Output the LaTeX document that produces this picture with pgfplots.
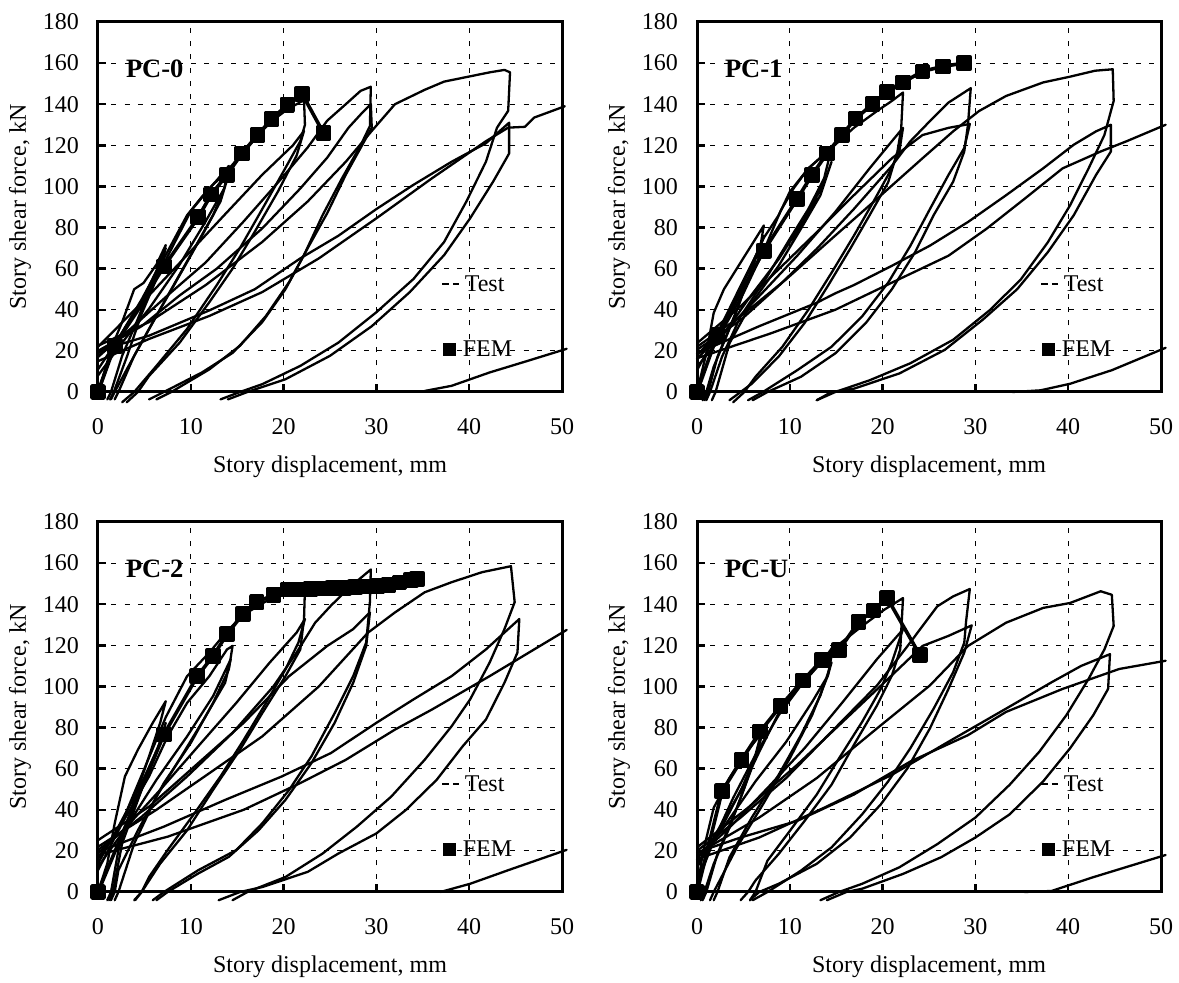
\documentclass[border=0pt]{standalone}
\usepackage{fontspec}
\setmainfont{Liberation Serif}
\usepackage{pgfplots}
\pgfplotsset{compat=1.18}
\tikzset{
  test/.style={black, line width=2.3pt, line join=round, line cap=round, mark=none},
  fem/.style={black, line width=3.6pt, line join=round, mark=square*, mark size=6pt, mark options={solid, fill=black}},
}
\pgfplotsset{panel/.style={
  width=464pt, height=370pt, scale only axis,
  xmin=0, xmax=50, ymin=0, ymax=180,
  xtick={0,10,20,30,40,50}, ytick={0,20,...,180},
  grid=major,
  major grid style={black, line width=0.9pt, dash pattern=on 5pt off 8.3pt},
  axis line style={black, line width=3pt},
  tick align=inside, xtick pos=left, ytick pos=left,
  major tick length=8pt,
  tick style={black, line width=2.4pt},
  clip=false,
  tick label style={font=\fontsize{24}{28}\selectfont},
  /pgf/number format/assume math mode=true,
  xticklabel style={anchor=center, yshift=-35pt},
  yticklabel style={anchor=east, xshift=-11pt},
  xlabel={Story displacement, mm}, ylabel={Story shear force, kN},
  label style={font=\fontsize{24}{28}\selectfont},
  xlabel style={at={(axis description cs:0.5,-0.203)}, anchor=center},
  ylabel style={at={(axis description cs:-0.168,0.5)}, anchor=center},
}}
\newcommand{\legendbits}[1]{%
  \addplot[black, line width=1.6pt, dash pattern=on 6.5pt off 4pt] coordinates {(37.1,52.5)(38.95,52.5)};
  \addplot[only marks, mark=square*, mark size=6pt, black] coordinates {(37.8,21)};
  \node[anchor=west, inner sep=0pt] at (axis cs:39.5,52.5) {Test};
  \node[anchor=west, inner sep=0pt] at (axis cs:39.3,21) {FEM};
  \node[anchor=west, inner sep=0pt, font=\bfseries\fontsize{26.5}{30}\selectfont] at (axis cs:3,157) {#1};
}
\begin{document}
\fontsize{24}{28}\selectfont
\begin{tikzpicture}
% ---------------- PC-0 ----------------
\begin{axis}[panel, at={(98pt,591pt)}, anchor=south west]
\addplot[test] coordinates {(0,0)(0.7,10)(1.4,21)(2.6,34)(3.9,50)(4.9,53)(6.3,62)(7.3,71.5)(6.7,62)(5.5,49)(4.3,35.6)(2.6,17.6)(1.4,0)(1.0,-3.6)};
\addplot[test] coordinates {(0,11)(2.2,26)(4.7,44)(7.1,66.6)(7.3,70)(6.3,55)(4.7,38)(3.1,17)(1.7,0)(1.3,-3.6)};
\addplot[test] coordinates {(0,19)(2.2,26)(4.7,45)(7.1,65)(9.6,86)(11.2,95)(12.8,103)(14.1,110)(13.6,99)(12.4,86)(10.4,70)(7.9,50)(5.5,30.7)(3.1,11)(1.8,0)(1.4,-3.6)};
\addplot[test] coordinates {(0,8)(2.6,24)(5.5,40.5)(8.8,62)(11.6,83)(13.6,99)(14.1,106)(13.2,92.7)(11.2,76)(9.2,60)(6.3,37)(3.9,17.6)(2.2,0)(1.8,-3.6)};
\addplot[test] coordinates {(0,17)(2.5,27)(5,44)(7.5,66)(10,88)(12,99)(14,108)(15.7,117)(17.2,125)(18.8,132)(20.4,137.5)(22.2,142)(22.3,130)(21.8,122)(20.2,109)(17.7,89)(15.3,70)(12.8,52)(9.6,30.7)(6.3,12.7)(3.9,0)(2.6,-5)};
\addplot[test] coordinates {(0,22)(2.2,32)(5.5,47)(9.6,66.6)(13.6,86)(17.7,105.7)(21,120)(22.2,127)(21.4,115)(19.4,97.6)(16.9,78)(14.5,60)(12,43.7)(8.8,24)(5.5,7.8)(4.3,0)(3.1,-5)};
\addplot[test] coordinates {(0,17.6)(3.5,30.7)(7.5,47)(11.6,63)(15.7,83)(19.8,104)(22.6,119)(24.7,132)(26.7,140)(28.3,146.5)(29.4,148.5)(29.3,129.4)(28.3,120)(26.3,104)(24.2,86)(22.2,66.6)(20.2,50)(17.7,34)(14.5,19)(11.2,9.5)(7.1,0)(5.5,-3.6)};
\addplot[test] coordinates {(0,20)(4.7,32)(8.8,47)(12.8,60)(17.7,79.6)(21.8,99)(24.7,114)(27,128.6)(28.3,135)(29.4,140)(29.5,128.6)(28.7,122)(26.7,105.7)(24.7,87)(22.6,70)(20.6,53.5)(18.1,37)(15.3,22.5)(12,11)(7.9,0)(6.3,-3.6)};
\addplot[test] coordinates {(0,22.5)(5.5,34)(11.6,52)(17.7,73)(22.6,92.7)(26.7,112)(29.5,127)(32,140)(35.2,147)(37.3,151)(42.2,155.5)(43.8,156.7)(44.4,155.5)(44.2,136.8)(43,128.6)(41.8,112)(39.7,92.7)(37.3,73)(34,55)(30,38.8)(25.9,24)(21.8,12.7)(17.7,3.8)(15.3,0)(13.2,-3.6)};
\addplot[test] coordinates {(0,20)(5.5,27.4)(12,39.7)(16.9,50)(21.8,65)(25.9,76)(30,89)(34,100.8)(38.1,112)(41.8,121)(44.3,131)(44.3,116)(42.6,102.5)(40.1,84.5)(37.3,66.6)(33.6,48.6)(29.5,32)(25,17.6)(20.2,6.2)(16.1,0)(14,-3.6)};
\addplot[test] coordinates {(0,15)(5.5,25.8)(12,37)(17.7,48.6)(23.8,65)(30,84.5)(36,104)(41.8,122)(44.2,128.6)(46,129)(47,133.5)(50.3,139)};
\addplot[test] coordinates {(35.2,0.5)(38.1,3)(42.2,9.5)(46.2,15)(50.5,21)};
\addplot[fem] coordinates {(0,0)(1.8,22.5)(7.1,61)(10.8,85)(12.2,96)(13.9,105.7)(15.5,116)(17.2,125)(18.7,132.7)(20.4,139.7)(22,145)(24.3,126)};
\legendbits{PC-0}
\end{axis}
% ---------------- PC-1 ----------------
\begin{axis}[panel, at={(697pt,591pt)}, anchor=south west]
\addplot[test] coordinates {(0,0)(1,18.8)(1.8,38.5)(2.9,50)(4.7,63)(6.3,74.5)(7.2,81)(6.9,72.8)(5.5,54.8)(3.9,35)(1.8,12.3)(1,0)(0.6,-4)};
\addplot[test] coordinates {(0,10.6)(2.2,28.6)(4.7,51.6)(6.7,69.6)(7.2,76)(5.9,59.7)(4.3,40)(2.2,17)(1.2,0)(0.8,-4)};
\addplot[test] coordinates {(0,18)(2.2,28)(4.7,50)(7.2,75)(8.8,86)(10,97.4)(12,108.8)(14.5,118.7)(13.7,104)(12,89)(10,74.5)(7.6,56.5)(4.7,36.8)(2.7,17.2)(1.4,0)(1,-4)};
\addplot[test] coordinates {(0,12.3)(2.7,27)(5.5,45)(8.8,64.6)(11.6,84.3)(13.7,102)(14.5,112)(13.3,95.7)(11.2,79.4)(8.8,61.4)(5.9,43.4)(3.5,23.7)(2,0)(1.6,-4)};
\addplot[test] coordinates {(0,16)(2.5,28)(5,48)(7.5,72)(9,88)(10.4,99)(12,108.8)(14.5,118.7)(16.9,128.5)(19.4,136.7)(21,141.6)(22.2,145.7)(22,128)(21.6,117)(20.6,102)(18.6,86)(16.5,69.6)(14.1,51.6)(11.6,33.6)(8.8,17.2)(5.9,4)(4.7,0)(3.5,-4)};
\addplot[test] coordinates {(0,18)(3.1,30)(6.7,46.6)(10.8,66.3)(14.9,87.6)(18.6,108.8)(21,122)(22.2,128.5)(21.8,117)(20.6,105.6)(19,92.5)(16.9,76)(14.5,58)(12,40)(9.2,22)(6.3,7.4)(5.1,0)(3.9,-5)};
\addplot[test] coordinates {(0,20.5)(4.7,35)(8.8,51.6)(12.9,69.6)(16.9,89)(21,110)(23,122)(25.1,131.8)(27.1,140.8)(29.5,147.8)(29.2,130)(28.8,117)(27.6,102.3)(25.5,86)(23.5,68)(21,50)(18.2,33.6)(14.9,18.8)(11.2,7.4)(7.6,0)(6,-4)};
\addplot[test] coordinates {(0,23.7)(4.7,41.7)(8.8,59.7)(12.9,77.7)(16.9,95.7)(21,113.7)(24.3,125)(27.1,128.5)(29.4,130.4)(28.8,118.7)(27.1,105.6)(25.1,89)(23,71.2)(20.6,53.2)(17.8,36.8)(14.5,22)(10.8,10.6)(7.1,0)(5.5,-4)};
\addplot[test] coordinates {(0,22)(4.7,36.8)(9.6,54.8)(14.5,74.5)(19.4,94)(24.3,113.7)(27.6,126.8)(30.4,136.7)(33.3,144)(37.3,150.6)(40.2,153.4)(42.9,156.3)(44.8,157)(44.9,141.6)(43.9,125)(42.2,108.8)(40.2,90.8)(37.8,72.8)(34.9,54.8)(31.6,40)(27.6,25.4)(23,14)(18.6,5.7)(14.9,0)(12.9,-4)};
\addplot[test] coordinates {(0,18.8)(6.7,32)(12.9,43.4)(14.9,48)(16.9,52)(21,61.4)(25.1,71.2)(29.2,82.7)(33.3,95.7)(37.3,108.8)(40.6,120.3)(43,126.8)(44.6,130)(44.6,117)(43,105.6)(40.6,86)(37.8,68)(34.5,50)(30.8,35.2)(26.7,20.5)(21.8,9)(16.9,1.6)(14.5,0)(12.9,-4)};
\addplot[test] coordinates {(0,16.4)(8,28.6)(14.9,40)(21,53.2)(27.1,66.3)(31.2,79.4)(35.3,94)(39.4,108.8)(43.5,117)(46.3,122)(50.5,130)};
\addplot[test] coordinates {(34,0)(37,0.8)(40.2,4)(44.7,10.6)(50.5,21.5)};
\addplot[fem] coordinates {(0,0)(2.2,27.8)(7.2,68.7)(10.8,94)(12.4,105.6)(14,116)(15.6,125)(17.1,133)(18.9,140)(20.5,146)(22.2,150.6)(24.3,156)(26.5,158.4)(28.8,160)};
\legendbits{PC-1}
\end{axis}
% ---------------- PC-2 ----------------
\begin{axis}[panel, at={(98pt,91pt)}, anchor=south west]
\addplot[test] coordinates {(0,0)(1,13.8)(1.8,33.4)(2.9,56.2)(4.3,69.2)(5.9,82.3)(7.3,92.8)(6.7,82.3)(5.5,66)(3.9,44.8)(2.2,20.4)(1.4,0)(1,-4)};
\addplot[test] coordinates {(0,13.8)(2.2,31.8)(4.7,53)(6.7,72.5)(7.3,82.3)(6.3,67.6)(4.7,49.7)(2.6,23.6)(1.6,0)(1.2,-4)};
\addplot[test] coordinates {(0,10.6)(2.6,33.4)(5.5,56.2)(7.5,75.7)(9.6,92)(12,105)(13.9,118)(14.5,119.7)(14.1,108.3)(12.4,92)(10,72.5)(7.1,53)(4.3,30)(2.2,10.6)(1.8,0)(1.4,-4)};
\addplot[test] coordinates {(0,12.2)(3.1,31.8)(6.3,54.6)(9.6,75.7)(12.4,95.3)(14.3,113.2)(13.7,101.8)(11.6,85.5)(9.2,67.6)(6.3,46.4)(3.9,23.6)(2.2,0)(1.8,-4)};
\addplot[test] coordinates {(0,16)(2.5,33)(5,60)(7.3,85)(9.6,105)(12,116.5)(14.1,127.9)(16.1,136)(18.5,142.5)(20.6,145.8)(22.3,147.4)(22.2,132.8)(21.8,118)(20.2,105)(17.7,87)(15.3,69.2)(12.4,49.7)(9.6,30)(6.7,13.8)(4.7,0)(3.9,-4)};
\addplot[test] coordinates {(0,18.7)(3.1,31.8)(6.7,49.7)(10.8,70.9)(14.9,92)(18.5,111.6)(21.4,126.2)(22.3,132.8)(21.6,121.4)(20.2,108.3)(18.1,92)(15.7,74)(13.2,56.2)(10.4,38.3)(7.5,20.4)(5.5,7.3)(4.7,0)(4,-4)};
\addplot[test] coordinates {(0,20.4)(4.7,36.6)(9.6,56.2)(14.5,77.4)(18.9,100)(21.4,116.5)(23.4,131)(25.1,139.3)(27.1,148.2)(29.4,156.9)(29.3,141)(28.9,121.4)(27.5,105)(25.5,87)(23,66)(20.6,49.7)(17.7,33.4)(14.9,20.4)(10.8,10.6)(7.1,0)(5.9,-4)};
\addplot[test] coordinates {(0,25.2)(5.5,41.5)(10.8,62.7)(15.7,82.3)(20.6,105)(24.7,119.7)(27.5,127.9)(29.3,136)(28.9,119.7)(27.5,101.8)(25.5,82.3)(23,62.7)(20.2,44.8)(17.3,30)(14.1,17.1)(10.8,9)(7.5,0)(6.3,-4)};
\addplot[test] coordinates {(0,22)(6.3,40)(12,57.8)(17.7,75.7)(23.8,100)(29.1,126.2)(32,136)(35.2,145.8)(38.1,150.7)(41.4,155.6)(44.5,158.5)(44.9,141)(43.8,127.9)(42.2,111.6)(40.1,93.7)(38.1,80.6)(35.2,64.3)(31.6,46.4)(27.9,31.8)(24.2,18.7)(20.2,7.3)(16.1,0)(14.5,-4)};
\addplot[test] coordinates {(0,19.5)(7.1,31.8)(13.7,44.8)(19.8,56.2)(25.1,67.6)(30,82.3)(34,93.7)(38.1,105)(41.8,118)(45.4,132.8)(45.2,116.5)(43.8,101.8)(41.8,83.9)(39.3,70.9)(36.5,54.6)(33.2,40)(30,28.5)(25.9,18.7)(22.6,9.8)(17.7,2.4)(15.3,0)(13,-4)};
\addplot[test] coordinates {(0,18)(7.5,26.9)(15.7,40)(21.8,53)(26.7,64.3)(32,79)(36,88.8)(42.2,105)(47,118)(50.5,127.5)};
\addplot[test] coordinates {(36.9,0)(40.1,4)(44.2,10.6)(50.5,20.5)};
\addplot[fem] coordinates {(0,0)(7.1,76.6)(10.7,105)(12.4,114.8)(13.9,125.4)(15.6,135.2)(17.1,141)(18.9,144.5)(20.5,147.2)(21.7,147.2)(22.9,147.4)(24.1,147.7)(25.3,148)(26.5,148)(27.7,148.3)(28.9,148.7)(30.1,149)(31.3,149.3)(32.5,150.5)(33.7,151.8)(34.4,152.3)};
\legendbits{PC-2}
\end{axis}
% ---------------- PC-U ----------------
\begin{axis}[panel, at={(697pt,91pt)}, anchor=south west]
\addplot[test] coordinates {(0,0)(0.6,18.5)(1.8,41)(3.5,55.4)(5.1,66.7)(6.9,77)(6.3,66.7)(5.1,50.6)(3.5,31.3)(1.8,13.7)(0.8,0)(0.4,-4)};
\addplot[test] coordinates {(0,12)(2.2,29.7)(4.7,49)(6.5,68.3)(6.9,74.7)(5.9,60.3)(4.3,41)(2.2,18.5)(1,0)(0.6,-4)};
\addplot[test] coordinates {(0,4)(1.8,25)(3.9,45.8)(6.3,66.7)(8.8,86)(11.2,100.5)(13.7,113.3)(14.7,119.7)(14.1,105.3)(12.4,86)(10,65)(7.1,42.6)(4.3,21.7)(1.8,0)(1.4,-4)};
\addplot[test] coordinates {(0,13.7)(3.1,33)(6.3,53.8)(9.6,73)(12.4,92.4)(14.1,105.3)(14.5,111.7)(13.3,95.6)(11.2,76.3)(8.8,57)(5.9,36.2)(3.5,16.9)(2.2,0)(1.8,-4)};
\addplot[test] coordinates {(0,16)(2.5,30)(5,52)(6.9,70)(8.8,87)(11.2,101)(13.7,113.5)(15.3,120.5)(17.8,129.4)(20.2,137.4)(22.2,143)(21.9,118)(21,105.3)(19.4,90.8)(16.9,71.5)(14.5,52.2)(11.6,34.6)(8.8,18.5)(6.3,5.6)(5.5,0)(4.7,-4)};
\addplot[test] coordinates {(0,16.9)(3.5,31.3)(7.6,50.6)(11.6,70)(15.7,92.4)(19.4,113.3)(21.9,126.2)(22.2,128)(21,111.7)(19.8,98.8)(17.8,82.8)(15.3,65)(12.9,47.4)(10,29.7)(7.6,15.3)(6.3,0)(5.7,-4)};
\addplot[test] coordinates {(0,20)(4.7,36.2)(9.6,55.4)(14.5,78)(19.4,100.5)(22.7,119.7)(24.3,129.4)(25.9,139)(27.6,143.8)(29.4,147.4)(29,131.8)(28.8,121.3)(27.6,106.9)(25.5,89.2)(23,70)(20.6,53.8)(17.8,37.8)(14.5,21.7)(11.2,10.4)(7.6,0)(6,-4)};
\addplot[test] coordinates {(0,21.7)(5.5,41)(10.8,61.9)(15.7,82.8)(20.6,103.7)(24.3,119.7)(27.1,124.6)(29.6,129.7)(28.8,116.5)(27.1,98.8)(25.1,79.6)(22.7,60.3)(19.8,42.6)(16.5,26.5)(12.9,13.7)(8.8,4)(6.7,0)(5.7,-4)};
\addplot[test] coordinates {(0,18.5)(6.7,36.2)(12.9,55.4)(19.4,79.6)(25.1,100.5)(29.2,119.7)(33.3,131)(37.3,138.2)(40.2,140.6)(43.5,146.3)(44.7,144.6)(44.9,129.4)(43.9,118)(42.2,103.7)(39.8,86)(36.9,68.3)(33.7,52.2)(30,36.2)(25.9,23.3)(21.8,12)(17.8,4)(15.3,0)(13.3,-4)};
\addplot[test] coordinates {(0,16)(6.7,26.5)(13.7,41)(21,57)(27.1,73.1)(33.3,89.2)(38.2,102)(41.4,110)(44.5,115.7)(44.3,98.8)(42.7,86)(40.2,69.9)(37.3,53.8)(33.7,37.8)(30,26.5)(26.3,16.9)(22.2,8.8)(17.8,1.6)(16.1,0)(14,-4)};
\addplot[test] coordinates {(0,19.3)(4.7,26.5)(10.8,34.6)(16.9,47.4)(23,63.5)(29.2,76.3)(33.3,87.6)(39.4,98.8)(45.5,108.5)(50.5,112.5)};
\addplot[test] coordinates {(35.3,0)(38.2,0.5)(42.7,7.2)(50.5,18)};
\addplot[fem] coordinates {(0,0)(2.7,49)(4.8,64.3)(6.8,78)(9,90.5)(11.4,102.9)(13.5,113)(15.3,117.6)(17.4,131.3)(19,137)(20.5,143)(24,115.4)};
\legendbits{PC-U}
\end{axis}
\pgfresetboundingbox
\path[use as bounding box] (0pt,0pt) rectangle (1179pt,983pt);
\end{tikzpicture}
\end{document}
